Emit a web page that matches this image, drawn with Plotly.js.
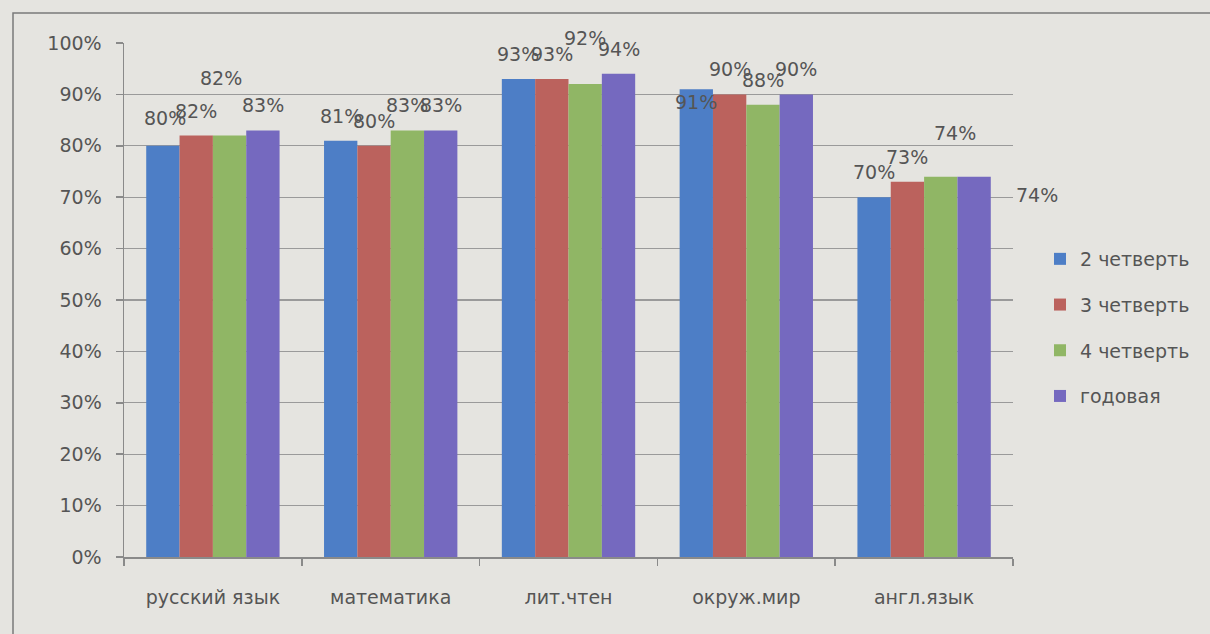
<!DOCTYPE html>
<html>
<head>
<meta charset="utf-8">
<script src="https://cdn.plot.ly/plotly-3.0.1.min.js"></script>
<style>
  html, body { margin: 0; padding: 0; background: #e5e4e0; }
  #chart { width: 1210px; height: 634px; }
</style>
</head>
<body>
<div id="chart"></div>
<script>
// ---- data ----
const categories = ['русский язык', 'математика', 'лит.чтен', 'окруж.мир', 'англ.язык'];
const seriesNames = ['2 четверть', '3 четверть', '4 четверть', 'годовая'];
const q2 = [0.80, 0.81, 0.93, 0.91, 0.70];
const q3 = [0.82, 0.80, 0.93, 0.90, 0.73];
const q4 = [0.82, 0.83, 0.92, 0.88, 0.74];
const annual = [0.83, 0.83, 0.94, 0.90, 0.74];
const yTickVals = [0, 0.1, 0.2, 0.3, 0.4, 0.5, 0.6, 0.7, 0.8, 0.9, 1.0];
const yTickText = ['0%', '10%', '20%', '30%', '40%', '50%', '60%', '70%', '80%', '90%', '100%'];

// ---- styling ----
const series = [q2, q3, q4, annual];
const colors = ['#4d7ec6', '#bb625d', '#90b665', '#7569bf'];
const textColor = '#555555';
const font = '"DejaVu Sans", "Open Sans", sans-serif';

const M = { l: 124, r: 197, t: 43, b: 77 };
const W = 1210, H = 634;
const plotW = W - M.l - M.r;
const plotH = H - M.t - M.b;
const bargap = 0.25;
const barW = plotW / categories.length * (1 - bargap) / series.length;

// manual label nudges (series index -> category index -> [dx, dy above bar top])
const labelNudge = {
  0: { 0: [2, 28], 3: [0, -13] },
  2: { 0: [-9, 58], 2: [0, 46], 4: [14, 44] },
  3: { 4: [63, -18] }
};

const traces = series.map((vals, i) => ({
  type: 'bar',
  name: seriesNames[i],
  x: categories,
  y: vals,
  marker: { color: colors[i], line: { width: 0 } },
  legendgroup: 'g' + i,
  hoverinfo: 'x+y+name'
}));

const annotations = [];
series.forEach((vals, i) => {
  vals.forEach((v, j) => {
    const n = (labelNudge[i] && labelNudge[i][j]) || [0, 25];
    annotations.push({
      xref: 'x', yref: 'y', x: categories[j], y: v,
      xshift: (i - (series.length - 1) / 2) * barW + n[0],
      yshift: n[1],
      yanchor: 'middle', xanchor: 'center',
      text: Math.round(v * 100) + '%',
      showarrow: false,
      font: { family: font, size: 19, color: textColor }
    });
  });
});

const px2x = p => (p - M.l) / plotW;
const px2y = p => (H - M.b - p) / plotH;

const layout = {
  width: W, height: H,
  margin: M,
  paper_bgcolor: '#e5e4e0',
  plot_bgcolor: '#e5e4e0',
  barmode: 'group',
  bargap: bargap,
  bargroupgap: 0,
  showlegend: true,
  legend: {
    x: px2x(1040), xanchor: 'left',
    y: px2y(240), yanchor: 'top',
    bgcolor: 'rgba(0,0,0,0)',
    font: { family: font, size: 19, color: textColor },
    tracegroupgap: 18,
    traceorder: 'grouped'
  },
  xaxis: {
    type: 'category',
    range: [-0.5, categories.length - 0.5],
    showgrid: false,
    showline: true, linecolor: '#8a8a8a', linewidth: 1.5,
    ticks: 'outside', ticklen: 7, tickcolor: '#8a8a8a', tickwidth: 1.5,
    tickson: 'boundaries',
    ticklabelstandoff: 23,
    tickfont: { family: font, size: 19, color: textColor },
    zeroline: false
  },
  yaxis: {
    range: [0, 1],
    tickvals: yTickVals, ticktext: yTickText,
    showgrid: true, gridcolor: '#9a9a9a', gridwidth: 1.2,
    showline: true, linecolor: '#8a8a8a', linewidth: 1.5,
    ticks: 'outside', ticklen: 7, tickcolor: '#8a8a8a', tickwidth: 1.5,
    ticklabelstandoff: 10,
    tickfont: { family: font, size: 19, color: textColor },
    zeroline: false
  },
  annotations: annotations,
  shapes: [{
    type: 'rect', xref: 'paper', yref: 'paper',
    x0: px2x(13), x1: px2x(1230), y0: px2y(650), y1: px2y(13),
    line: { color: '#7a7a7a', width: 1.5 }, fillcolor: 'rgba(0,0,0,0)',
    layer: 'below'
  }]
};

Plotly.newPlot('chart', traces, layout, { displayModeBar: false, staticPlot: true });
</script>
</body>
</html>
